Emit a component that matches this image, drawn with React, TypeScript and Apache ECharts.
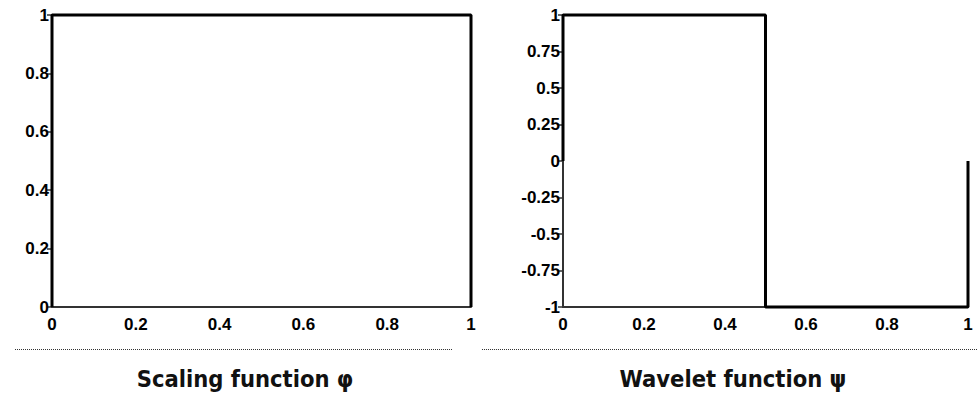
import React, { useEffect, useRef } from "react";
import * as echarts from "echarts";

// Haar scaling function φ(t) and wavelet ψ(t) as step outlines
const scalingX = [0, 0, 1, 1];
const scalingY = [0, 1, 1, 0];
const waveletX = [0, 0, 0.5, 0.5, 1, 1];
const waveletY = [0, 1, 1, -1, -1, 0];

const titles = ["Scaling function φ", "Wavelet function ψ"];

const labelFont = "'Liberation Sans', Arial, Helvetica, sans-serif";
const titleFont = "'DejaVu Sans Condensed', 'DejaVu Sans', Tahoma, sans-serif";

const zip = (xs: number[], ys: number[]) => xs.map((x, i) => [x, ys[i]]);

export default function App() {
  const ref = useRef<HTMLDivElement>(null);

  useEffect(() => {
    if (!ref.current) return;
    const chart = echarts.init(ref.current, undefined, { renderer: "svg" });

    const axisLabel = {
      color: "#000",
      fontFamily: labelFont,
      fontWeight: "bold" as const,
      fontSize: 17,
    };
    const axisLine = { show: true, onZero: false, lineStyle: { color: "#333", width: 2 } };

    const xAxis = (gridIndex: number) => ({
      type: "value" as const,
      gridIndex,
      min: 0,
      max: 1,
      interval: 0.2,
      axisLine,
      axisTick: { show: false },
      splitLine: { show: false },
      axisLabel: { ...axisLabel, margin: 9 },
    });

    const yAxis = (gridIndex: number, min: number, interval: number) => ({
      type: "value" as const,
      gridIndex,
      min,
      max: 1,
      interval,
      axisLine,
      axisTick: { show: true, length: 5, lineStyle: { color: "#333", width: 1.5 } },
      splitLine: { show: false },
      axisLabel: { ...axisLabel, margin: 3 },
    });

    const lineSeries = (idx: number, data: number[][]) => ({
      type: "line" as const,
      xAxisIndex: idx,
      yAxisIndex: idx,
      data,
      showSymbol: false,
      clip: false,
      lineStyle: { color: "#000", width: 3 },
      z: 5,
    });

    // dotted rules separating the plots from their captions
    const dotted = (x1: number, x2: number) => ({
      type: "line" as const,
      shape: { x1, y1: 349.5, x2, y2: 349.5 },
      style: { stroke: "#333", lineWidth: 1, lineDash: [1, 1] },
    });

    const title = (x: number, text: string) => ({
      type: "text" as const,
      x,
      y: 379,
      style: {
        text,
        fill: "#111",
        font: `bold 23.5px ${titleFont}`,
        textAlign: "center" as const,
        textVerticalAlign: "middle" as const,
      },
    });

    chart.setOption({
      animation: false,
      grid: [
        { left: 52, top: 15, width: 419, height: 292 },
        { left: 563, top: 15, width: 405, height: 292 },
      ],
      xAxis: [xAxis(0), xAxis(1)],
      yAxis: [yAxis(0, 0, 0.2), yAxis(1, -1, 0.25)],
      series: [
        lineSeries(0, zip(scalingX, scalingY)),
        lineSeries(1, zip(waveletX, waveletY)),
      ],
      graphic: [
        dotted(15, 452),
        dotted(482, 977),
        title(245, titles[0]),
        title(733, titles[1]),
      ],
    });

    return () => chart.dispose();
  }, []);

  return (
    <div
      ref={ref}
      style={{ position: "fixed", left: 0, top: 0, width: 980, height: 399, background: "#fff" }}
    />
  );
}
